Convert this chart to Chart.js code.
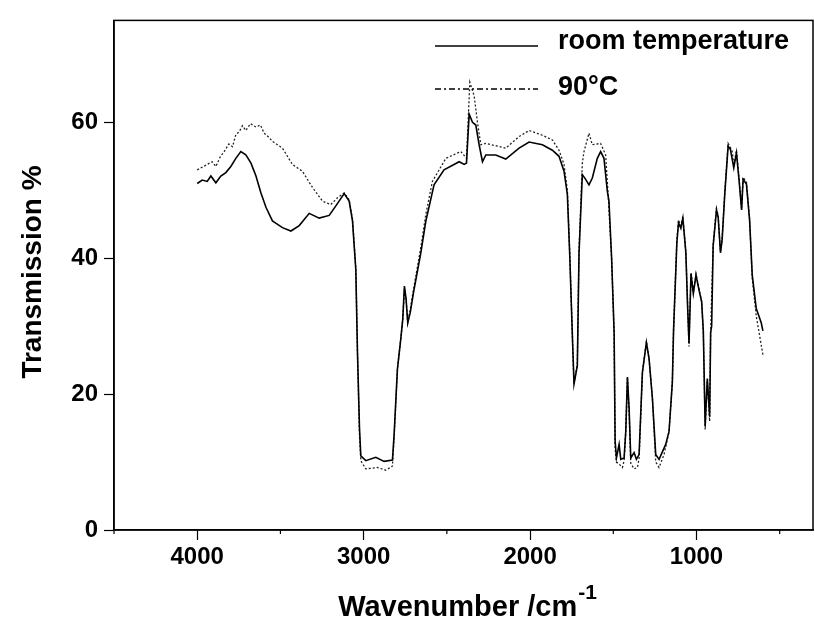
<!DOCTYPE html>
<html>
<head>
<meta charset="utf-8">
<script src="https://cdn.jsdelivr.net/npm/chart.js@4.4.1/dist/chart.umd.min.js"></script>
<style>
  html, body { margin: 0; padding: 0; background: #fff; }
  #wrap { width: 815px; height: 629px; }
</style>
</head>
<body>
<div id="wrap"><canvas id="ir"></canvas></div>
<script>
// wavenumber (cm-1) and transmission (%)
const wnRoom = [4000,3970,3940,3918,3888,3858,3828,3798,3768,3738,3708,3677,3647,3617,3587,3548,3488,3437,3387,3327,3267,3207,3167,3117,3087,3067,3047,3037,3025,3017,2987,2927,2877,2827,2817,2797,2777,2765,2755,2745,2735,2720,2700,2657,2626,2577,2517,2426,2396,2382,2366,2346,2326,2306,2286,2266,2206,2146,2066,2006,1926,1866,1826,1796,1776,1762,1745,1736,1716,1706,1686,1666,1646,1626,1596,1576,1556,1536,1526,1510,1495,1489,1481,1465,1455,1435,1425,1415,1405,1395,1375,1361,1345,1325,1301,1285,1265,1245,1225,1185,1165,1145,1138,1118,1108,1094,1082,1064,1053,1045,1033,1019,1003,983,969,959,948,935,921,915,909,900,880,870,856,846,830,810,796,776,760,744,729,720,700,681,665,641,611,601];
const tRoom = [51.0,51.5,51.3,52.1,51.1,52.1,52.6,53.5,54.7,55.7,55.2,54.0,52.1,49.6,47.5,45.5,44.5,44.0,44.8,46.6,45.9,46.3,47.7,49.5,48.4,45.5,38.3,26.1,15.0,10.9,10.2,10.7,10.1,10.3,14.0,23.7,28.1,31.0,35.9,34.0,30.5,32.0,35.0,40.7,45.5,50.8,53.0,54.2,53.8,54.0,61.2,60.0,59.6,56.7,54.2,55.2,55.2,54.6,56.2,57.1,56.7,55.9,55.0,52.8,49.4,40.7,28.0,21.5,24.2,40.7,52.3,51.6,50.8,51.8,54.7,55.7,54.7,49.9,48.4,40.0,29.1,13.1,10.6,12.6,10.4,10.6,14.5,22.5,17.9,10.6,11.4,10.4,11.1,23.2,27.6,25.2,19.4,11.1,10.4,12.6,14.5,21.8,29.3,42.3,45.2,44.4,45.9,40.8,32.6,27.5,37.7,34.8,37.5,35.1,33.6,29.3,15.3,22.3,16.7,29.1,30.0,41.8,47.1,46.1,40.8,42.7,49.5,56.5,56.0,53.3,55.5,51.4,47.1,51.6,50.9,45.6,37.5,32.6,30.5,29.3];

const wn90 = [4000,3970,3940,3910,3888,3860,3838,3810,3788,3768,3748,3728,3708,3680,3647,3620,3598,3570,3548,3488,3428,3368,3307,3247,3197,3157,3117,3087,3067,3047,3037,3025,3017,2987,2917,2867,2827,2817,2797,2777,2765,2755,2745,2735,2720,2700,2657,2626,2587,2506,2416,2382,2362,2336,2316,2296,2266,2146,2066,2006,1926,1866,1826,1796,1776,1762,1745,1736,1716,1706,1686,1676,1646,1626,1576,1546,1530,1510,1495,1489,1481,1465,1445,1435,1425,1415,1405,1395,1375,1355,1345,1325,1301,1285,1265,1245,1225,1195,1165,1145,1138,1118,1108,1094,1082,1064,1053,1045,1033,1019,1003,983,969,959,948,935,921,915,900,880,870,856,846,830,810,796,784,776,760,744,729,720,700,681,665,641,620,601];
const t90 = [53.0,53.4,53.8,54.2,53.5,55.0,55.7,56.8,56.4,58.2,58.6,59.5,58.8,59.8,59.3,59.6,58.4,57.8,57.2,56.2,53.8,52.8,50.4,48.4,47.9,48.9,49.6,48.6,45.8,38.5,26.0,14.0,10.2,9.0,9.2,8.8,9.4,13.5,23.7,28.1,31.0,35.5,34.0,30.5,32.5,35.5,41.5,46.5,51.3,54.7,55.7,54.7,65.9,63.9,60.0,56.7,56.9,56.2,57.9,58.8,58.1,57.4,55.9,53.8,50.0,41.0,28.0,21.5,24.5,41.0,54.0,55.7,58.4,56.7,56.9,55.2,49.0,40.0,29.0,12.0,10.0,9.7,9.2,10.2,14.5,22.5,17.5,9.8,9.0,9.2,10.5,23.2,27.8,25.2,19.4,10.0,9.2,11.1,14.5,21.8,29.3,42.6,45.6,44.8,46.2,41.0,32.6,27.0,37.9,35.0,37.7,35.3,33.6,29.0,14.8,22.0,16.0,29.0,42.0,47.3,46.3,41.0,43.0,49.7,56.9,56.3,55.6,53.6,55.9,51.8,47.2,51.9,51.2,45.8,37.0,31.5,28.5,25.8];

const seriesNames = ['room temperature', '90°C'];
const majorTicks = [4000, 3000, 2000, 1000];
const minorTicks = [4500, 3500, 2500, 1500, 500];
const yTicks = [0, 20, 40, 60];

const FONT = '"Liberation Sans", Arial, sans-serif';

function toPoints(xs, ys) {
  return xs.map((x, i) => ({ x: x, y: ys[i] }));
}

// frame, minor ticks, axis titles and the legend
const decor = {
  id: 'decor',
  afterDraw(chart) {
    const ctx = chart.ctx;
    const a = chart.chartArea;
    const xs = chart.scales.x;
    ctx.save();
    ctx.strokeStyle = '#000';
    ctx.lineWidth = 1.5;
    ctx.strokeRect(a.left, a.top, a.right - a.left, a.bottom - a.top);

    ctx.lineWidth = 1.2;
    minorTicks.forEach(v => {
      const px = xs.getPixelForValue(v);
      ctx.beginPath();
      ctx.moveTo(px, a.bottom);
      ctx.lineTo(px, a.bottom + 4);
      ctx.stroke();
    });

    // x title with superscript
    ctx.fillStyle = '#000';
    ctx.textBaseline = 'alphabetic';
    ctx.font = 'bold 29px ' + FONT;
    const main = 'Wavenumber /cm';
    const wMain = ctx.measureText(main).width;
    ctx.font = 'bold 21px ' + FONT;
    const wSup = ctx.measureText('-1').width;
    const x0 = 467 - (wMain + wSup) / 2;
    ctx.font = 'bold 29px ' + FONT;
    ctx.fillText(main, x0, 616);
    ctx.font = 'bold 21px ' + FONT;
    ctx.fillText('-1', x0 + wMain + 1, 599);

    // y title
    ctx.save();
    ctx.translate(41, 272);
    ctx.rotate(-Math.PI / 2);
    ctx.font = 'bold 28px ' + FONT;
    ctx.textAlign = 'center';
    ctx.fillText('Transmission %', 0, 0);
    ctx.restore();

    // legend
    ctx.font = 'bold 27px ' + FONT;
    ctx.textBaseline = 'middle';
    ctx.textAlign = 'left';
    ctx.lineWidth = 1.6;
    ctx.setLineDash([]);
    ctx.beginPath();
    ctx.moveTo(435, 46);
    ctx.lineTo(538, 46);
    ctx.stroke();
    ctx.fillText(seriesNames[0], 558, 42);
    ctx.lineWidth = 1.4;
    ctx.setLineDash([6, 3, 2, 3]);
    ctx.beginPath();
    ctx.moveTo(435, 89);
    ctx.lineTo(538, 89);
    ctx.stroke();
    ctx.setLineDash([]);
    ctx.fillText(seriesNames[1], 558, 88);
    ctx.restore();
  }
};

new Chart(document.getElementById('ir'), {
  type: 'line',
  data: {
    datasets: [
      {
        label: seriesNames[0],
        data: toPoints(wnRoom, tRoom),
        borderColor: '#000',
        borderWidth: 1.6,
        pointRadius: 0,
        tension: 0
      },
      {
        label: seriesNames[1],
        data: toPoints(wn90, t90),
        borderColor: '#222',
        borderWidth: 1.3,
        borderDash: [2, 2],
        pointRadius: 0,
        tension: 0
      }
    ]
  },
  options: {
    responsive: true,
    maintainAspectRatio: false,
    animation: false,
    layout: { padding: { left: 0, right: 2, top: 14, bottom: 0 } },
    plugins: {
      legend: { display: false },
      tooltip: { enabled: false }
    },
    scales: {
      x: {
        type: 'linear',
        reverse: true,
        min: 300,
        max: 4500,
        afterFit: s => { s.height = 99; },
        border: { display: true, color: '#000', width: 1.5 },
        grid: { drawOnChartArea: false, drawTicks: true, tickLength: 10, tickColor: '#000', tickWidth: 1.2 },
        afterBuildTicks: s => { s.ticks = majorTicks.map(v => ({ value: v })); },
        ticks: {
          color: '#000',
          padding: 3,
          font: { family: FONT, size: 24, weight: 'bold' },
          maxRotation: 0,
          callback: v => String(v)
        }
      },
      y: {
        min: 0,
        max: 75,
        afterFit: s => { s.width = 114; },
        border: { display: true, color: '#000', width: 1.5 },
        grid: { drawOnChartArea: false, drawTicks: true, tickLength: 10, tickColor: '#000', tickWidth: 1.2 },
        afterBuildTicks: s => { s.ticks = yTicks.map(v => ({ value: v })); },
        ticks: {
          color: '#000',
          padding: 6,
          font: { family: FONT, size: 24, weight: 'bold' },
          callback: v => String(v)
        }
      }
    }
  },
  plugins: [decor]
});
</script>
</body>
</html>
